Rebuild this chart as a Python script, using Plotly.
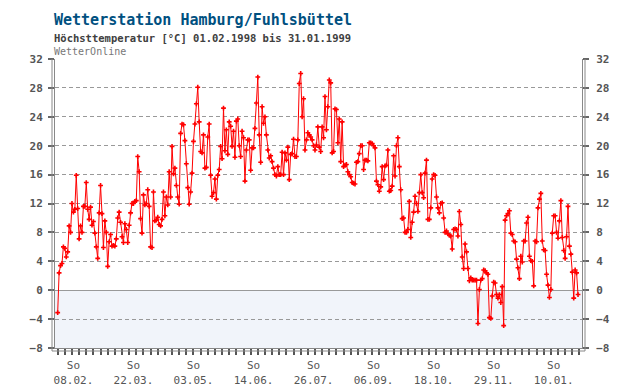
import plotly.graph_objects as go
import pandas as pd

start = "1998-02-01"
temps = [
    -3.1, 2.4, 3.4, 3.7, 6.0, 5.8, 4.6, 5.3, 8.9, 8.0,
    12.0, 10.8, 11.2, 15.9, 11.3, 7.1, 8.9, 8.0, 11.6, 11.6,
    14.9, 11.2, 9.8, 11.5, 9.0, 9.5, 7.9, 6.0, 4.4, 10.7,
    14.5, 10.6, 5.9, 9.6, 8.0, 3.3, 6.7, 7.7, 6.1, 6.2,
    6.1, 7.1, 10.0, 10.8, 9.4, 7.4, 6.6, 9.2, 8.4, 6.6,
    9.0, 10.7, 12.0, 12.0, 12.3, 12.4, 18.5, 16.4, 9.9, 7.9,
    13.2, 11.8, 12.0, 13.9, 11.6, 6.0, 5.9, 13.6, 9.6, 9.7,
    10.1, 9.1, 8.9, 9.8, 13.6, 10.3, 12.9, 11.8, 16.4, 12.9,
    19.9, 16.1, 16.9, 14.5, 12.9, 11.9, 21.7, 23.0, 22.9, 20.7,
    17.5, 14.2, 11.9, 13.6, 16.2, 20.6, 23.0, 25.8, 28.1, 23.3,
    19.2, 19.0, 21.5, 16.9, 17.0, 21.2, 23.0, 15.9, 13.0, 13.5,
    15.4, 12.6, 15.9, 16.7, 19.9, 18.2, 25.2, 19.3, 22.2, 18.8,
    23.3, 22.7, 19.9, 22.0, 18.4, 23.4, 23.7, 20.0, 18.5, 22.0,
    21.1, 15.1, 19.4, 20.8, 20.8, 16.6, 19.7, 19.7, 22.4, 25.9,
    29.5, 21.5, 17.7, 25.4, 23.1, 24.0, 21.5, 19.4, 18.3, 18.6,
    17.8, 16.9, 16.0, 15.8, 17.1, 16.0, 16.0, 19.1, 16.0, 19.0,
    18.0, 19.8, 15.3, 18.8, 18.9, 20.9, 18.5, 18.5, 20.8, 28.6,
    30.0, 24.0, 26.5, 19.4, 20.8, 21.8, 21.5, 21.2, 20.8, 20.0,
    19.4, 20.1, 22.6, 19.8, 19.2, 22.6, 21.1, 26.8, 22.2, 25.4,
    29.1, 28.7, 19.0, 19.2, 25.1, 25.0, 20.4, 23.7, 17.8, 23.3,
    17.1, 17.3, 17.4, 16.4, 16.0, 15.7, 14.9, 14.8, 14.7, 17.7,
    17.8, 18.9, 20.0, 20.0, 16.7, 18.0, 18.0, 17.9, 20.4, 20.4,
    20.3, 20.0, 19.7, 15.1, 14.6, 13.7, 14.3, 17.1, 15.3, 17.2,
    17.3, 19.4, 13.7, 13.8, 14.4, 18.6, 15.8, 20.0, 21.1, 17.1,
    13.9, 9.9, 10.0, 8.0, 8.0, 8.4, 12.3, 7.3, 9.4, 10.8,
    13.0, 12.0, 10.9, 13.5, 16.0, 13.5, 12.8, 16.2, 18.0, 9.8,
    9.8, 11.4, 15.4, 16.0, 15.9, 12.9, 11.4, 10.7, 12.0, 12.1,
    10.0, 8.0, 8.2, 7.8, 7.6, 7.5, 5.7, 8.4, 8.5, 8.4,
    7.5, 10.9, 9.1, 4.6, 3.0, 6.4, 5.3, 3.0, 1.3, 1.7,
    1.4, 1.4, 1.4, 1.4, -4.6, 0.1, 1.4, 1.6, 2.8, 2.7,
    2.4, 2.2, -3.8, -3.9, -0.8, 1.1, 1.0, -0.6, -1.1, -0.6,
    -1.7, 0.5, -4.9, 9.7, 10.3, 10.6, 11.0, 7.9, 7.7, 6.8,
    6.7, 4.3, 3.1, 1.6, 4.7, 3.9, 6.8, 6.8, 9.3, 10.1,
    4.7, 4.1, 4.0, 0.6, 6.8, 6.7, 11.4, 12.6, 13.4, 6.8,
    5.6, 5.5, 2.2, 0.7, -1.0, 0.1, 7.9, 10.3, 10.3, 8.0,
    7.2, 9.6, 12.4, 7.3, 5.5, 4.4, 7.4, 11.6, 6.1, 5.0,
    2.5, -1.1, 2.8, 2.4, -0.6,
]
sunday_labels = ["08.02.", "22.03.", "03.05.", "14.06.", "26.07.",
                 "06.09.", "18.10.", "29.11.", "10.01."]
sunday_dates = ["1998-02-08", "1998-03-22", "1998-05-03", "1998-06-14", "1998-07-26",
                "1998-09-06", "1998-10-18", "1998-11-29", "1999-01-10"]
y_ticks = list(range(-8, 33, 4))

dates = pd.date_range(start, periods=len(temps), freq="D")
label_pos = [pd.Timestamp(d) + pd.Timedelta(days=4) for d in sunday_dates]
label_txt = ["So<br>" + s for s in sunday_labels]

MONO = "DejaVu Sans Mono"
fig = go.Figure()
fig.add_trace(go.Scatter(
    x=dates, y=temps, mode="lines+markers",
    line=dict(color="#ff0000", width=1),
    marker=dict(symbol="cross", size=4, color="#ff0000"),
    showlegend=False, hoverinfo="x+y"))
fig.add_trace(go.Scatter(
    x=dates[:1], y=temps[:1], yaxis="y2", mode="markers",
    marker=dict(opacity=0), showlegend=False, hoverinfo="skip"))

# the page body adds an 8px offset; plot area in the screenshot: x 55..582, y 59..348
OFF = 8
W, H = 527, 289
L, T = 55 - OFF, 59 - OFF
R, B = 640 - L - W, 390 - T - H
px = 1.0 / W
py = 1.0 / H

x0 = dates[0] - pd.Timedelta(hours=int(1.9 * 24))
x1 = dates[-1] + pd.Timedelta(hours=int(2.8 * 24))

grid = dict(showgrid=True, gridcolor="#999999", gridwidth=1, griddash="4px,3px")
fig.update_layout(
    width=640, height=390, margin=dict(l=L, r=R, t=T, b=B, autoexpand=False),
    paper_bgcolor="white", plot_bgcolor="white",
    font=dict(family=MONO, color="#555555"),
    xaxis=dict(range=[x0, x1], tickmode="array", tickvals=label_pos, ticktext=label_txt,
               ticks="outside", ticklen=0, showgrid=False, zeroline=False, automargin=False,
               showline=True, linecolor="#888888", linewidth=1,
               tickfont=dict(family=MONO, size=11, color="#555555"),
               ticklabelstandoff=7,
               minor=dict(ticks="outside", ticklen=6, tickwidth=2, tickcolor="#555555",
                          tickmode="linear", tick0=start, dtick=5 * 86400000, showgrid=False)),
    yaxis=dict(range=[-8, 32], tickvals=y_ticks, ticks="outside", ticklen=6, tickwidth=2,
               tickcolor="#666666", showline=True, linecolor="#888888", linewidth=1,
               zeroline=True, zerolinecolor="#999999", zerolinewidth=1, automargin=False,
               tickfont=dict(family=MONO, size=11, color="#555555", weight="bold"),
               ticklabelstandoff=3, **grid),
    yaxis2=dict(range=[-8, 32], tickvals=y_ticks, overlaying="y", side="right",
                ticks="outside", ticklen=6, tickwidth=2, tickcolor="#666666",
                showline=True, linecolor="#888888", linewidth=1, showgrid=False,
                zeroline=False, ticklabelstandoff=5, automargin=False,
                tickfont=dict(family=MONO, size=11, color="#555555", weight="bold")),
)

fig.add_shape(type="rect", xref="paper", yref="y", x0=0, x1=1, y0=-8, y1=0,
              fillcolor="#f1f4fa", line=dict(width=0), layer="below")
for xa, xb, ya, yb in [(-3 * px, -3 * px, -3 * py, 1), (1 + 3 * px, 1 + 3 * px, -3 * py, 1),
                       (-3 * px, 1 + 3 * px, -3 * py, -3 * py)]:
    fig.add_shape(type="line", xref="paper", yref="paper", x0=xa, x1=xb, y0=ya, y1=yb,
                  line=dict(color="#888888", width=1), layer="above")

def ypaper(ypx):
    # ypx: screenshot y coordinate
    return (59 + H - ypx) / H

def xpaper(xpx):
    return (xpx - 55) / W

fig.add_annotation(text="Wetterstation Hamburg/Fuhlsbüttel", xref="paper", yref="paper",
                   x=xpaper(52), y=ypaper(20), xanchor="left", yanchor="middle",
                   showarrow=False, font=dict(family=MONO, size=15, color="#00507f", weight="bold"))
fig.add_annotation(text="Höchsttemperatur [°C] 01.02.1998 bis 31.01.1999", xref="paper", yref="paper",
                   x=xpaper(52), y=ypaper(38), xanchor="left", yanchor="middle",
                   showarrow=False, font=dict(family=MONO, size=10.5, color="#404040", weight="bold"))
fig.add_annotation(text="WetterOnline", xref="paper", yref="paper",
                   x=xpaper(52), y=ypaper(51), xanchor="left", yanchor="middle",
                   showarrow=False, font=dict(family=MONO, size=10, color="#777777"))

fig.write_html("out.html")
